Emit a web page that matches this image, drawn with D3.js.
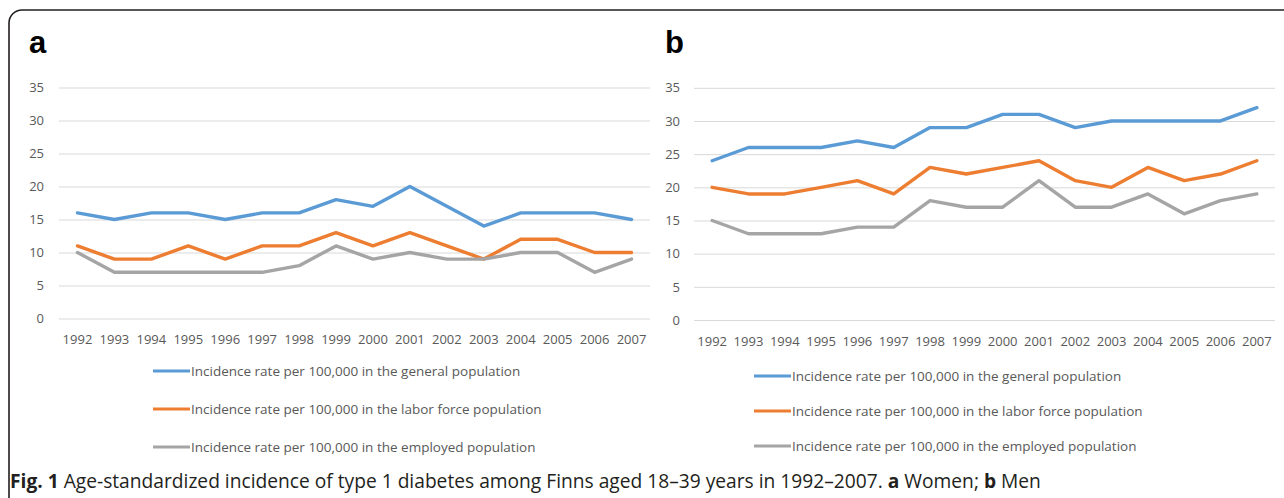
<!DOCTYPE html>
<html>
<head>
<meta charset="utf-8">
<script src="https://cdn.jsdelivr.net/npm/d3@7"></script>
<style>
  body { margin: 0; background: #fff; }
  svg { display: block; }
</style>
</head>
<body>
<div id="chart"></div>
<script>
const years = ["1992", "1993", "1994", "1995", "1996", "1997", "1998", "1999",
  "2000", "2001", "2002", "2003", "2004", "2005", "2006", "2007"]
const yTicks = [0, 5, 10, 15, 20, 25, 30, 35]
const seriesNames = [
  "Incidence rate per 100,000 in the general population",
  "Incidence rate per 100,000 in the labor force population",
  "Incidence rate per 100,000 in the employed population"
]
const seriesColors = ["#5b9bd5", "#ed7d31", "#a5a5a5"]

// a: women
const womenGeneral = [16, 15, 16, 16, 15, 16, 16, 18, 17, 20, 17, 14, 16, 16, 16, 15]
const womenLabor = [11, 9, 9, 11, 9, 11, 11, 13, 11, 13, 11, 9, 12, 12, 10, 10]
const womenEmployed = [10, 7, 7, 7, 7, 7, 8, 11, 9, 10, 9, 9, 10, 10, 7, 9]

// b: men
const menGeneral = [24, 26, 26, 26, 27, 26, 29, 29, 31, 31, 29, 30, 30, 30, 30, 32]
const menLabor = [20, 19, 19, 20, 21, 19, 23, 22, 23, 24, 21, 20, 23, 21, 22, 24]
const menEmployed = [15, 13, 13, 13, 14, 14, 18, 17, 17, 21, 17, 17, 19, 16, 18, 19]

const width = 1284
const height = 498
const tickFont = "'Open Sans', 'Noto Sans', sans-serif"

const svg = d3.select("#chart")
  .append("svg")
  .attr("width", width)
  .attr("height", height)

// figure frame, runs off the right and bottom edges
svg.append("rect")
  .attr("x", 9)
  .attr("y", 10)
  .attr("width", 1320)
  .attr("height", 520)
  .attr("rx", 13)
  .attr("fill", "none")
  .attr("stroke", "#231f20")
  .attr("stroke-width", 1.6)

function drawPanel(opts) {
  const g = svg.append("g")

  const x = d3.scaleBand()
    .domain(years)
    .range([opts.left, opts.right])

  const y = d3.scaleLinear()
    .domain([0, 35])
    .range([opts.bottom, opts.top])

  // panel letter
  g.append("text")
    .attr("x", opts.letterX)
    .attr("y", 53)
    .attr("font-family", "'Liberation Sans', Arial, sans-serif")
    .attr("font-weight", "bold")
    .attr("font-size", "31px")
    .attr("fill", "#000")
    .text(opts.letter)

  // gridlines + y labels
  const yAxis = d3.axisLeft(y)
    .tickValues(yTicks)
    .tickSize(-(opts.right - opts.left))
    .tickPadding(opts.left - opts.labelRight)

  g.append("g")
    .attr("transform", `translate(${opts.left},0)`)
    .call(yAxis)
    .call(a => a.select(".domain").remove())
    .call(a => a.selectAll(".tick line").attr("stroke", "#d9d9d9").attr("stroke-width", 1))
    .call(a => a.selectAll(".tick text")
      .attr("x", -(opts.left - opts.labelRight))
      .attr("font-family", tickFont)
      .attr("font-size", "13px")
      .attr("fill", "#595959"))

  // year labels
  const xAxis = d3.axisBottom(x).tickSize(0).tickPadding(0)
  g.append("g")
    .attr("transform", `translate(0,${opts.yearY})`)
    .call(xAxis)
    .call(a => a.select(".domain").remove())
    .call(a => a.selectAll(".tick text")
      .attr("dy", "0.35em")
      .attr("font-family", tickFont)
      .attr("font-size", "13px")
      .attr("fill", "#595959"))

  const line = d3.line()
    .x((d, i) => x(years[i]) + x.bandwidth() / 2)
    .y(d => y(d))

  opts.series.forEach((values, i) => {
    g.append("path")
      .datum(values)
      .attr("fill", "none")
      .attr("stroke", seriesColors[i])
      .attr("stroke-width", 3.4)
      .attr("stroke-linejoin", "round")
      .attr("stroke-linecap", "round")
      .attr("d", line)
  })

  // legend, one entry per row
  const legend = g.selectAll(".legend")
    .data(seriesNames)
    .enter()
    .append("g")
    .attr("class", "legend")
    .attr("transform", (d, i) => `translate(${opts.legendX},${opts.legendRows[i]})`)

  legend.append("line")
    .attr("x1", 0)
    .attr("x2", 37)
    .attr("stroke", (d, i) => seriesColors[i])
    .attr("stroke-width", 3)

  legend.append("text")
    .attr("x", 38)
    .attr("dy", "0.35em")
    .attr("font-family", tickFont)
    .attr("font-size", "13.5px")
    .attr("fill", "#595959")
    .text(d => d)
}

drawPanel({
  letter: "a",
  letterX: 29,
  left: 59,
  right: 650,
  top: 87.5,
  bottom: 318.5,
  labelRight: 44,
  yearY: 339,
  legendX: 153,
  legendRows: [371, 409, 447],
  series: [womenGeneral, womenLabor, womenEmployed]
})

drawPanel({
  letter: "b",
  letterX: 665,
  left: 694,
  right: 1275,
  top: 87.8,
  bottom: 320,
  labelRight: 680,
  yearY: 341,
  legendX: 754,
  legendRows: [376, 411, 446],
  series: [menGeneral, menLabor, menEmployed]
})

// caption
const caption = svg.append("text")
  .attr("x", 10)
  .attr("y", 488)
  .attr("font-family", "'Open Sans', 'Noto Sans', sans-serif")
  .attr("font-size", "19.2px")
  .attr("fill", "#231f20")

caption.append("tspan").attr("font-weight", "bold").text("Fig. 1")
caption.append("tspan").text(" Age-standardized incidence of type 1 diabetes among Finns aged 18–39 years in 1992–2007. ")
caption.append("tspan").attr("font-weight", "bold").text("a")
caption.append("tspan").text(" Women; ")
caption.append("tspan").attr("font-weight", "bold").text("b")
caption.append("tspan").text(" Men")
</script>
</body>
</html>
